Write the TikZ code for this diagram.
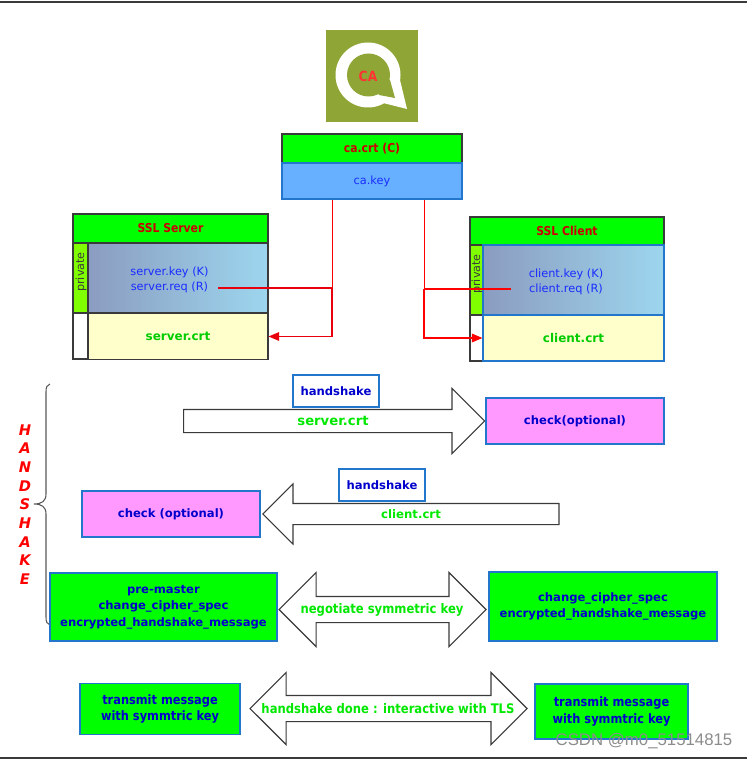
\documentclass[tikz,border=0pt]{standalone}
\usepackage{fontspec}
\setsansfont{DejaVu Sans}
\newfontfamily\markfont{Liberation Sans}
\newfontfamily\narrowfont[FakeStretch=0.88]{DejaVu Sans}
\usetikzlibrary{arrows.meta,shapes.arrows}
\definecolor{edgedark}{HTML}{3A3A3A}
\definecolor{edgeblue}{HTML}{2277CC}
\definecolor{boxgreen}{HTML}{00FF00}
\definecolor{boxyellow}{HTML}{FFFFCC}
\definecolor{boxpink}{HTML}{FF99FF}
\definecolor{boxsky}{HTML}{66B0FF}
\definecolor{privlime}{HTML}{80FF00}
\definecolor{gradleft}{HTML}{8B9CC0}
\definecolor{gradright}{HTML}{9DD6EE}
\definecolor{logoolive}{HTML}{8FA637}
\definecolor{textred}{HTML}{CC0000}
\definecolor{textblue}{HTML}{1A2CFF}
\definecolor{textnavy}{HTML}{0000CC}
\definecolor{textgreen}{HTML}{00CC00}
\definecolor{textlime}{HTML}{00E800}
\definecolor{linkred}{HTML}{E8000C}
\tikzset{
  pxbox/.style 2 args={minimum width=#1*0.75pt, minimum height=#2*0.75pt, inner sep=0pt},
  cell/.style={draw=edgedark, line width=0.8pt, align=center},
  bluecell/.style={draw=edgeblue, line width=0.8pt, align=center},
  headtxt/.style={font=\narrowfont\bfseries\fontsize{9.2}{12.4}\selectfont, text=textred},
  keytxt/.style={font=\sffamily\fontsize{8.5}{11}\selectfont, text=textblue, align=center},
  crttxt/.style={font=\sffamily\bfseries\fontsize{9}{12.4}\selectfont, text=textgreen},
  msgtxt/.style={font=\sffamily\bfseries\fontsize{8.7}{12.4}\selectfont, text=textnavy},
  txtxt/.style={font=\narrowfont\bfseries\fontsize{9.7}{12.4}\selectfont, text=textnavy},
  flowtxt/.style={font=\sffamily\bfseries\fontsize{8.8}{12.4}\selectfont, text=textlime},
  widetxt/.style={font=\narrowfont\bfseries\fontsize{9.9}{12.4}\selectfont, text=textlime},
  privtxt/.style={font=\sffamily\fontsize{8.4}{10}\selectfont, text=edgedark, rotate=90},
  link/.style={draw=linkred, line width=0.9pt},
  linkthin/.style={draw=red, line width=0.7pt},
  linktip/.style={-{Triangle[length=8pt,width=6.5pt]}},
  % block arrows: shaft, head, length in px
  onearrow/.style n args={3}{shape=single arrow, draw=edgedark, fill=white, line width=0.8pt,
    inner sep=0pt, text height=#1*0.75pt, text depth=0pt, single arrow head indent=0pt,
    single arrow head extend=(#2-#1)*0.375pt, minimum height=#3*0.75pt, anchor=tail},
  twoarrow/.style n args={3}{shape=double arrow, draw=edgedark, fill=white, line width=0.8pt,
    inner sep=0pt, text height=#1*0.75pt, text depth=0pt, double arrow head indent=0pt,
    double arrow head extend=(#2-#1)*0.375pt, minimum height=#3*0.75pt},
}
\begin{document}
\begin{tikzpicture}[x=0.75pt,y=-0.75pt]
  \useasboundingbox (0,0) rectangle (747,759);
  \draw[edgedark, line width=1pt] (0,2) -- (747,2);
  \draw[edgedark, line width=1pt] (0,758) -- (747,758);

  % logo
  \node[fill=logoolive, pxbox={92}{92}] (calogo) at (372,76.5) {};
  \fill[white] (368,75) circle (32.5);
  \fill[white] (368,75) -- (400,80) -- (407,109) -- (383,103) -- cycle;
  \fill[logoolive] (368.5,75) circle (21.5);
  \fill[logoolive] (368,75) -- (390,80) -- (395,98) -- (379,95) -- cycle;
  \node[font=\narrowfont\bfseries\fontsize{10.5}{11}\selectfont, text=red!80!white] (calabel) at (368,76) {CA};

  % ca
  \node[cell, fill=boxgreen, pxbox={180}{29}, headtxt] (cacrt) at (372,148.5) {ca.crt (C)};
  \node[bluecell, fill=boxsky, pxbox={180}{36}, keytxt] (cakey) at (372,181) {ca.key};

  % server
  \node[cell, fill=boxgreen, pxbox={195}{29}, headtxt] (srvhead) at (170.5,228.5) {SSL Server};
  \node[cell, fill=privlime, pxbox={15}{70}] (srvpriv) at (80.5,278) {};
  \node[cell, left color=gradleft, right color=gradright, pxbox={180}{70}] (srvkeys) at (178,278) {};
  \node[cell, fill=white, pxbox={15}{46}] (srvblank) at (80.5,336) {};
  \node[cell, fill=boxyellow, pxbox={180}{46}, crttxt] (srvcrt) at (178,336.5) {server.crt};
  \node[privtxt] (srvprivlabel) at (81,272) {private};
  \node[keytxt] (srvkeylabel) at (169.5,280) {server.key (K)\\server.req (R)};

  % client
  \node[cell, fill=boxgreen, pxbox={194}{28}, headtxt] (clthead) at (567,231) {SSL Client};
  \node[cell, fill=privlime, pxbox={13}{70}] (cltpriv) at (476.5,280) {};
  \node[cell, fill=white, pxbox={13}{46}] (cltblank) at (476.5,338) {};
  \node[privtxt] (cltprivlabel) at (477,274) {private};
  \node[bluecell, left color=gradleft, right color=gradright, pxbox={181}{70}] (cltkeys) at (573.5,280) {};
  \node[bluecell, fill=boxyellow, pxbox={181}{46}, crttxt] (cltcrt) at (573.5,338) {client.crt};
  \node[keytxt] (cltkeylabel) at (566,282) {client.key (K)\\client.req (R)};

  % signing lines
  \coordinate (srvreq) at (218,288);
  \coordinate (srvjoin) at (332,288);
  \coordinate (cltreq) at (511,289);
  \coordinate (cltjoin) at (424,289);
  \draw[linkthin] (cakey.south -| srvjoin) -- (srvjoin);
  \draw[link, linktip] (srvreq) -- (srvjoin) -- (srvjoin |- srvcrt.east) -- (srvcrt.east);
  \draw[linkthin] (cakey.south -| cltjoin) -- (cltjoin);
  \draw[link, draw=red, line width=1.1pt] (cltreq) -- (cltjoin);
  \draw[link, draw=red, linktip] (cltjoin) -- (cltjoin |- cltcrt.west) -- (cltcrt.west);

  % handshake brace
  \coordinate (bracetop) at (50,384);
  \coordinate (bracetip) at (34,504);
  \coordinate (bracebot) at (50,625);
  \draw[edgedark!85, line width=0.8pt] (bracetop) .. controls (47,385) and (46,387) .. (46,392)
    -- (46,494) .. controls (46,501) and (42,504) .. (bracetip)
    .. controls (42,504) and (46,507) .. (46,514) -- (46,617)
    .. controls (46,622) and (47,624) .. (bracebot);
  \node[font=\sffamily\bfseries\itshape\fontsize{11}{14}\selectfont, text=red, align=center] (hslabel) at (25,504.5)
    {H\\A\\N\\D\\S\\H\\A\\K\\E};

  % first exchange
  \node[onearrow={22}{64}{301}] (srvarrow) at (183,421) {};
  \node[flowtxt, font=\sffamily\bfseries\fontsize{9.9}{12.4}\selectfont] (srvarrowlabel) at (333,421) {server.crt};
  \node[bluecell, fill=white, pxbox={86}{32}, msgtxt] (hsone) at (336,391) {handshake};
  \node[bluecell, fill=boxpink, pxbox={178}{46}, msgtxt] (chkclient) at (575,421) {check(optional)};

  % second exchange
  \node[onearrow={20}{59}{296}, shape border rotate=180] (cltarrow) at (559.5,514) {};
  \node[flowtxt] (cltarrowlabel) at (411,514) {client.crt};
  \node[bluecell, fill=white, pxbox={86}{32}, msgtxt] (hstwo) at (382,485) {handshake};
  \node[bluecell, fill=boxpink, pxbox={178}{46}, msgtxt] (chkserver) at (171,514) {check (optional)};

  % key negotiation
  \node[bluecell, fill=boxgreen, pxbox={227}{68}, msgtxt] (negleft) at (163.5,607) {pre-master\\change\_cipher\_spec\\encrypted\_handshake\_message};
  \node[bluecell, fill=boxgreen, pxbox={228}{69}, msgtxt] (negright) at (603,606.5) {change\_cipher\_spec\\encrypted\_handshake\_message};
  \node[twoarrow={25}{73}{207}] (negarrow) at (382.5,609.5) {};
  \node[widetxt] (negarrowlabel) at (382,610) {negotiate symmetric key};

  % data transfer
  \node[bluecell, fill=boxgreen, pxbox={160}{51}, txtxt] (txleft) at (160,709) {transmit message\\with symmtric key};
  \node[bluecell, fill=boxgreen, pxbox={153}{55}, txtxt] (txright) at (611.5,711.5) {transmit message\\with symmtric key};
  \node[twoarrow={25}{71}{277}] (txarrow) at (388.5,708.5) {};
  \node[widetxt] (txarrowlabel) at (388,709) {handshake done : interactive with TLS};

  \node[font=\markfont\fontsize{12.6}{14}\selectfont, text=black!45] (csdnmark) at (644,741) {CSDN @m0\_51514815};
\end{tikzpicture}
\end{document}
